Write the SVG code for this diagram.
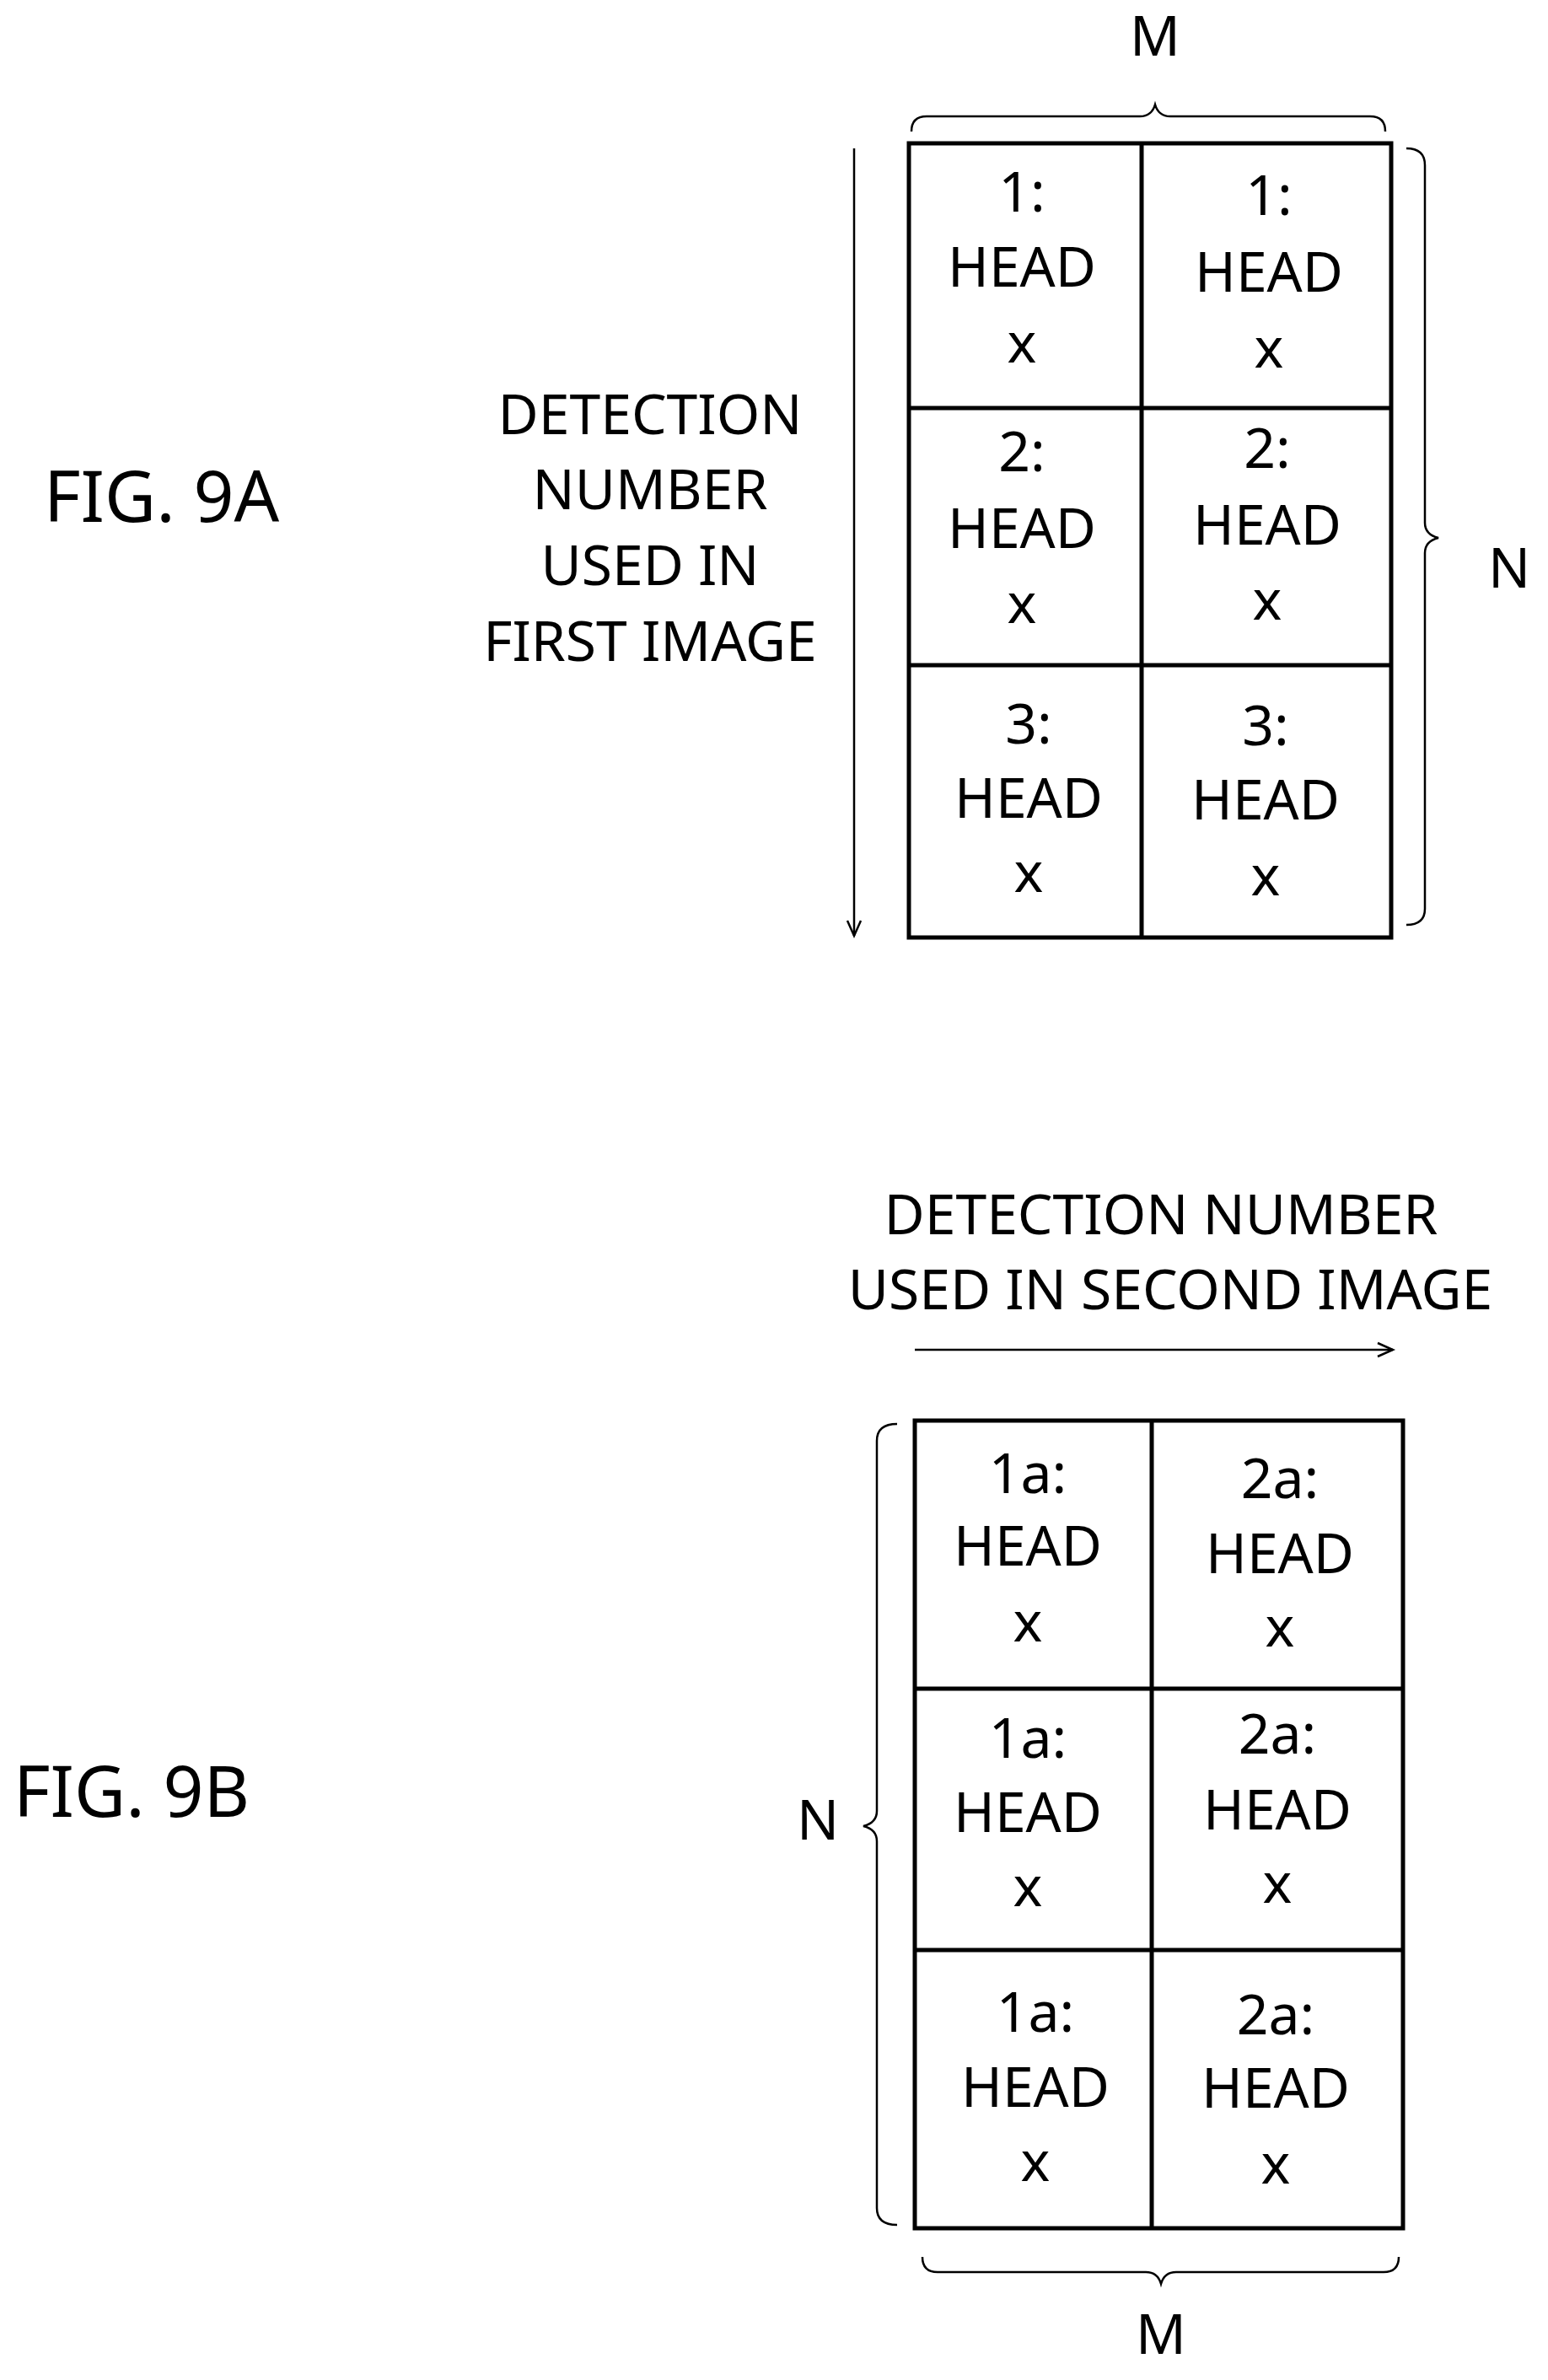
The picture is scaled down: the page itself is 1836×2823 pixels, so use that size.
<svg xmlns="http://www.w3.org/2000/svg" width="1836" height="2823" viewBox="0 0 1836 2823">
<style>
text{font-family:"Noto Sans","Liberation Sans",sans-serif;font-size:66px;fill:#000;text-anchor:middle}
.fig{font-size:84px;text-anchor:start}
.ln{fill:none;stroke:#000;stroke-width:5}
.th{fill:none;stroke:#000;stroke-width:2.5}
</style>
<defs>
<marker id="ah" markerWidth="24" markerHeight="24" refX="20" refY="12" orient="auto" markerUnits="userSpaceOnUse">
<path d="M2,4 L20,12 L2,20" fill="none" stroke="#000" stroke-width="2.5"/>
</marker>
</defs>
<g id="fig9a-label"><text class="fig" x="52" y="619">FIG. 9A</text></g>
<g id="fig9a-axis-label">
<text x="771" y="515">DETECTION</text><text x="771" y="604">NUMBER</text>
<text x="771" y="694">USED IN</text><text x="771" y="784">FIRST IMAGE</text>
</g>
<g id="fig9a-table">
<rect class="ln" x="1078" y="170" width="572" height="942"/>
<line class="ln" x1="1354" y1="170" x2="1354" y2="1112"/>
<line class="ln" x1="1078" y1="484" x2="1650" y2="484"/>
<line class="ln" x1="1078" y1="789" x2="1650" y2="789"/>
<text x="1212" y="251">1:</text><text x="1212" y="340">HEAD</text><text x="1212" y="430">x</text>
<text x="1505" y="255">1:</text><text x="1505" y="346">HEAD</text><text x="1505" y="436">x</text>
<text x="1212" y="559">2:</text><text x="1212" y="650">HEAD</text><text x="1212" y="739">x</text>
<text x="1503" y="555">2:</text><text x="1503" y="646">HEAD</text><text x="1503" y="735">x</text>
<text x="1220" y="882">3:</text><text x="1220" y="970">HEAD</text><text x="1220" y="1058">x</text>
<text x="1501" y="884">3:</text><text x="1501" y="972">HEAD</text><text x="1501" y="1062">x</text>
</g>
<g id="fig9a-M"><text x="1370" y="66">M</text></g>
<g id="fig9a-N"><text x="1790" y="697">N</text></g>
<g id="fig9b-label"><text class="fig" x="16" y="2155">FIG. 9B</text></g>
<g id="fig9b-axis-label">
<text x="1377" y="1464">DETECTION NUMBER</text><text x="1388" y="1553">USED IN SECOND IMAGE</text>
</g>
<g id="fig9b-table">
<rect class="ln" x="1085" y="1685" width="579" height="958"/>
<line class="ln" x1="1366" y1="1685" x2="1366" y2="2643"/>
<line class="ln" x1="1085" y1="2003" x2="1664" y2="2003"/>
<line class="ln" x1="1085" y1="2313" x2="1664" y2="2313"/>
<text x="1219" y="1771">1a:</text><text x="1219" y="1857">HEAD</text><text x="1219" y="1947">x</text>
<text x="1518" y="1777">2a:</text><text x="1518" y="1866">HEAD</text><text x="1518" y="1953">x</text>
<text x="1219" y="2085">1a:</text><text x="1219" y="2173">HEAD</text><text x="1219" y="2261">x</text>
<text x="1515" y="2080">2a:</text><text x="1515" y="2170">HEAD</text><text x="1515" y="2257">x</text>
<text x="1228" y="2410">1a:</text><text x="1228" y="2499">HEAD</text><text x="1228" y="2587">x</text>
<text x="1513" y="2413">2a:</text><text x="1513" y="2500">HEAD</text><text x="1513" y="2590">x</text>
</g>
<g id="fig9b-N"><text x="970" y="2182">N</text></g>
<g id="fig9b-M"><text x="1377" y="2792">M</text></g>
<g id="connectors">
<line class="th" x1="1013" y1="176" x2="1013" y2="1110" marker-end="url(#ah)"/>
<line class="th" x1="1085" y1="1601" x2="1652" y2="1601" marker-end="url(#ah)"/>
<path class="th" d="M1081,156 Q1081,138 1099,138 L1352,138 Q1366,138 1370,124 Q1374,138 1388,138 L1625,138 Q1643,138 1643,156"/>
<path class="th" d="M1668,176 Q1690,176 1690,196 L1690,620 Q1690,634 1706,638 Q1690,642 1690,656 L1690,1078 Q1690,1097 1668,1097"/>
<path class="th" d="M1064,1689 Q1040,1689 1040,1709 L1040,2148 Q1040,2162 1024,2166 Q1040,2170 1040,2184 L1040,2619 Q1040,2639 1064,2639"/>
<path class="th" d="M1094,2677 Q1094,2695 1112,2695 L1359,2695 Q1373,2695 1377,2709 Q1381,2695 1395,2695 L1641,2695 Q1659,2695 1659,2677"/>
</g>
</svg>
